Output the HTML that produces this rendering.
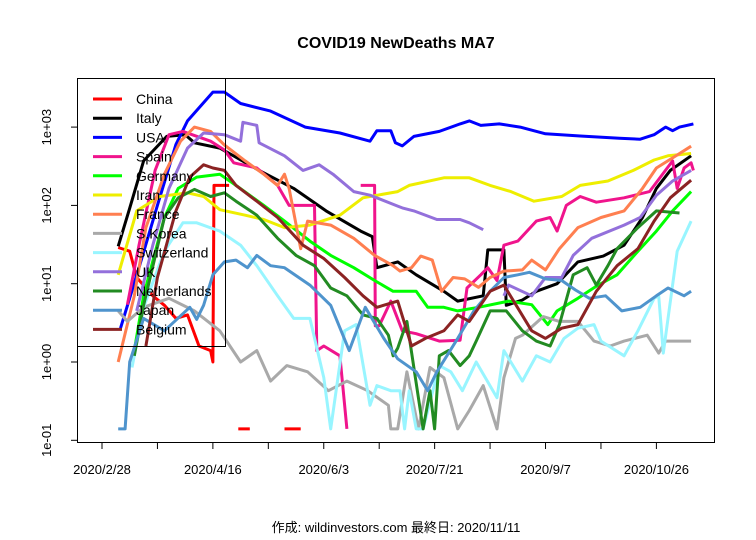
<!DOCTYPE html>
<html><head><meta charset="utf-8">
<style>
body{margin:0;background:#fff;}
svg{display:block;font-family:"Liberation Sans","Noto Sans CJK JP",sans-serif;}
</style></head>
<body>
<svg id="chart" width="756" height="540" viewBox="0 0 756 540" xmlns="http://www.w3.org/2000/svg">
<rect x="0" y="0" width="756" height="540" fill="#fff"/>
<text x="396" y="48" text-anchor="middle" font-size="16" font-weight="bold">COVID19 NewDeaths MA7</text>
<text x="396" y="532" text-anchor="middle" font-size="13">作成: wildinvestors.com 最終日: 2020/11/11</text>
<g id="axes"></g>
<g id="series"></g>
<g id="legend"></g>
<rect x="77.5" y="78.5" width="637" height="364" fill="none" stroke="#000" stroke-width="1"/>
</svg>
<script>
// day index from 2020/2/28
const xTickDays=[0,24,48,72,96,120,144,168,192,216,240];
const xTickLabels=["2020/2/28","","2020/4/16","","2020/6/3","","2020/7/21","","2020/9/7","","2020/10/26"];
const yTickVals=[0.1,1,10,100,1000];
const yTickLabels=["1e-01","1e+00","1e+01","1e+02","1e+03"];
const seriesNames=["China","Italy","USA","Spain","Germany","Iran","France","S.Korea","Switzerland","UK","Netherlands","Japan","Belgium"];
const seriesColors=["#ff0000","#000000","#0000ff","#f0148c","#00ff00","#eeee00","#ff7f50","#a9a9a9","#98f5ff","#9370db","#228b22","#4f94cd","#8b2323"];

const chinaDays=[7,12,15,22,27,32,37,42,47,48,48.5,55,null,59,64,null,79,86];
const chinaVals=[29,26,12,7,5.3,3.6,4,1.6,1.4,1,180,180,null,0.14,0.14,null,0.14,0.14];
const italyDays=[7,12,18,28,36,40,51,68,83,97,112,117,119,128,136,148,154,165,167,174,175,182,188,197,206,217,226,234,240,246,255];
const italyVals=[30,92,370,760,800,630,540,280,165,85,47,40,16,19,13,8,6,7,27,27,5.3,6.2,8,10,19,22.5,31,70,165,280,430];
const usaDays=[8,16,24,32,37,48,53,60,73,88,103,116,119,125,127,130,135,146,155,159,164,172,181,192,207,224,233,239,244,247,250,256];
const usaVals=[2.7,16,100,600,1200,2800,2800,2000,1600,1000,840,660,900,900,630,575,760,880,1100,1200,1050,1100,1000,820,770,720,700,800,1000,900,1000,1100];
const spainDays=[11,16,23,29,35,47,53,57,67,76,81,92,93,96,103,106,null,112,118,118.3,120,125,130,136,146,155,158,164,167,171,174,180,188,194,197,201,207,214,226,237,247,249,252,255,256];
const spainVals=[5.4,31,280,800,880,660,510,350,300,180,100,100,1.4,1.6,1.2,0.14,null,180,180,2.9,2.9,6,2.5,2.3,1.85,1.9,8.8,13,16,11,31,35,63,70,47,100,130,110,125,150,370,165,300,350,280];
const germanyDays=[14,18,27,33,41,51,58,70,79,90,99,109,118,126,129,136,141,148,154,163,176,186,193,197,206,214,223,232,240,247,255];
const germanyVals=[1.4,7,70,165,230,250,180,100,63,35,23,16,11,8,8,8,5,5,4.5,5,6,5.4,3,4.5,6.5,9.3,13,26,47,85,150];
const iranDays=[7,15,25,37,44,51,62,70,79,90,103,113,128,133,148,159,168,177,187,199,207,219,230,239,245,255];
const iranVals=[13,85,130,145,130,88,75,66,52,56,75,125,150,180,225,225,180,150,113,130,180,205,280,380,430,460];
const franceDays=[7,14,19,27,34,40,47,53,62,70,76,79,81,86,89,99,109,118,126,129,134,138,143,147,152,157,163,168,174,182,186,192,198,206,216,226,234,240,249,255];
const franceVals=[1,7,52,250,660,1000,880,590,370,250,180,250,165,28,63,56,38,23,17,14.5,16,22.5,20,8,12,11.5,9,12,14.5,15,20,15,28,52,70,85,165,300,440,570];
const koreaDays=[7,11,18,29,40,51,60,67,73,80,89,98,106,115,124,125,128,132,137,142,148,154,159,165,171,174,179,182,191,198,206,213,220,226,236,241,244,249,255];
const koreaVals=[4.5,3.3,5,6.5,4.5,2.5,1,1.4,0.57,0.9,0.75,0.43,0.57,0.43,0.28,0.14,0.14,0.75,0.14,0.85,0.63,0.14,0.24,0.5,0.14,0.63,2,2.2,3.8,3.3,3.3,1.85,1.6,1.85,2.2,1.3,1.85,1.85,1.85];
const swissDays=[13,18,27,35,41,51,60,67,76,83,90,96,99,105,110,114,116,119,125,129,131,133,136,139,146,151,156,162,171,174,182,188,194,200,206,213,216,226,232,239,241,243,249,255];
const swissVals=[0.85,5,26,60,60,47,31,17,7,3.6,3.6,0.63,0.14,2.5,3,0.63,0.28,0.5,0.43,0.43,0.14,0.43,0.14,0.14,0.9,0.75,0.43,1,0.35,1.4,0.57,1.2,1,2,2.7,3,1.85,1.2,2.5,6.5,7,1.3,26,63,85];
const ukDays=[15,22,29,37,44,53,60,61,67,68,79,87,94,100,109,116,128,130,135,145,155,159,165,null,174,176,186,192,199,204,212,226,233,240,247,255];
const ukVals=[4.5,31,165,540,840,800,660,1150,1050,630,430,280,330,250,150,135,98,93,85,66,66,60,49,null,7,9.6,7,12,12,23,38,56,70,135,205,280,380];
const nlDays=[14,18,27,33,40,47,53,58,67,76,84,92,99,106,113,119,124,126,128,132,139,142,144,146,150,155,159,162,168,175,182,188,194,198,204,210,214,219,223,232,240,250,255];
const nlVals=[1.2,5.3,70,125,160,130,145,113,75,38,23,17,8.8,7,4,3.6,2.2,1.2,1.5,3.3,0.14,0.43,0.14,1.2,1.4,0.9,1.2,1.85,4.5,4.5,2.5,1.85,1.6,3,13,16,9.6,17,28,52,85,80];
const japanDays=[7,10,12,18,27,38,41,44,48,53,58,63,67,73,79,90,99,107,114,122,128,136,141,145,154,161,168,174,180,185,192,199,205,211,218,225,233,240,245,252,255];
const japanVals=[0.14,0.14,1,3.6,2.5,5,3.5,5.3,13,19,20,16,23,17,16,9.6,5.3,1.4,5,2,1.1,0.75,0.43,0.75,2,4.5,8,12,13,14,11.5,11,8.3,6.5,7,4.5,5,7,8.8,7,8];
const belgiumDays=[19,24,32,38,44,48,53,58,67,76,87,96,105,113,119,128,134,140,148,154,159,168,174,186,192,199,206,214,223,232,239,246,255];
const belgiumVals=[1.6,12,85,230,330,300,280,180,113,70,31,21,12,7,5,6,1.6,2,2.5,4,3.3,8,9.6,2.5,2,2.7,3,8,17,28,63,125,210];

const allDays=[chinaDays,italyDays,usaDays,spainDays,germanyDays,iranDays,franceDays,koreaDays,swissDays,ukDays,nlDays,japanDays,belgiumDays];
const allVals=[chinaVals,italyVals,usaVals,spainVals,germanyVals,iranVals,franceVals,koreaVals,swissVals,ukVals,nlVals,japanVals,belgiumVals];

const NS="http://www.w3.org/2000/svg";
function xScale(d){return 102+d*2.31;}
function yScale(v){return 362-Math.log10(v)*78.3;}
const axes=document.getElementById('axes');
const sg=document.getElementById('series');
const lg=document.getElementById('legend');
function mk(tag,attrs,parent){const e=document.createElementNS(NS,tag);for(const k in attrs)e.setAttribute(k,attrs[k]);parent.appendChild(e);return e;}

// x axis
mk('line',{x1:xScale(xTickDays[0]),x2:xScale(xTickDays[xTickDays.length-1]),y1:442.5,y2:442.5,stroke:'#000'},axes);
xTickDays.forEach((d,i)=>{
  const t=mk('line',{x1:xScale(d),x2:xScale(d),y1:442.5,y2:449,stroke:'#000'},axes);
  
  
  if(xTickLabels[i]){
    const tx=mk('text',{x:xScale(d),y:474,'text-anchor':'middle','font-size':13},axes);
    
    
    tx.textContent=xTickLabels[i];
  }
});
// y axis
mk('line',{x1:77.5,x2:77.5,y1:yScale(yTickVals[0]),y2:yScale(yTickVals[yTickVals.length-1]),stroke:'#000'},axes);
yTickVals.forEach((v,i)=>{
  const y=yScale(v);
  const t=mk('line',{x1:71,x2:77.5,y1:y,y2:y,stroke:'#000'},axes);
  
  
  const tx=mk('text',{x:0,y:0,'text-anchor':'middle','font-size':13,transform:`translate(51,${y}) rotate(-90)`},axes);
  
  
  tx.textContent=yTickLabels[i];
});

// series
const clip=mk('clipPath',{id:'pc'},mk('defs',{},document.getElementById('chart')));
mk('rect',{x:78,y:79,width:636,height:363},clip);
sg.setAttribute('clip-path','url(#pc)');
allDays.forEach((days,si)=>{
  const vals=allVals[si];
  let d='';let pen=false;
  for(let i=0;i<days.length;i++){
    if(days[i]===null||vals[i]===null){pen=false;continue;}
    d+=(pen?'L':'M')+xScale(days[i]).toFixed(1)+','+yScale(vals[i]).toFixed(1);
    pen=true;
  }
  const p=mk('path',{d:d,fill:'none',stroke:seriesColors[si],'stroke-width':3,'stroke-linejoin':'round'},sg);
  
  
});

// legend
const lbox=mk('rect',{x:77.5,y:78.5,width:148,height:268,fill:'none',stroke:'#000'},lg);


seriesNames.forEach((n,i)=>{
  const y=99+i*19.2;
  const g=mk('g',{},lg);
  
  
  mk('line',{x1:93,x2:122,y1:y,y2:y,stroke:seriesColors[i],'stroke-width':3},g);
  const t=mk('text',{x:136,y:y+5,'font-size':14},g);
  t.textContent=n;
});
</script>
</body></html>
